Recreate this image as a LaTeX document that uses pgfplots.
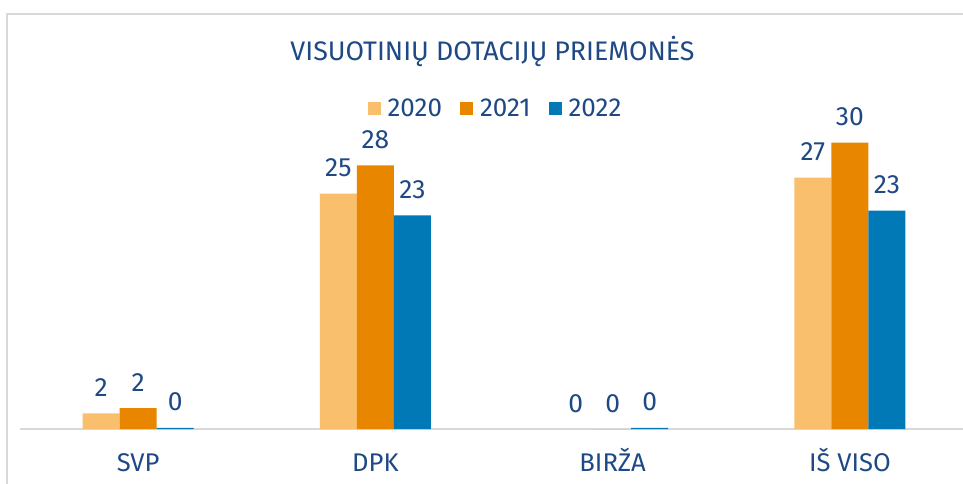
\documentclass[border=0pt]{standalone}
\usepackage{pgfplots}
\pgfplotsset{compat=1.18}
\usepackage{fontspec}
\setmainfont{Fira Sans}
\definecolor{c20}{RGB}{249,191,109}
\definecolor{c21}{RGB}{232,134,0}
\definecolor{c22}{RGB}{0,121,182}
\definecolor{txt}{RGB}{31,73,132}
\definecolor{frame}{RGB}{217,217,217}
\begin{document}
\begin{tikzpicture}[x=0.5pt,y=0.5pt]
\clip (0,0) rectangle (963,483);
\fill[white] (0,0) rectangle (963,483);
\draw[frame, line width=0.75pt] (7,-20) rectangle (1000,469);
\node[anchor=base, text=txt, font=\fontsize{13.4}{15}\selectfont, inner sep=0pt] at (492.5,422.3) {VISUOTINIŲ DOTACIJŲ PRIEMONĖS};
\begin{axis}[
  at={(9.75pt,27pt)}, anchor=south west,
  scale only axis, width=474.5pt, height=165.4pt,
  xmin=-0.5, xmax=3.5, ymin=0, ymax=35,
  axis y line=none, axis x line*=bottom,
  x axis line style={frame, line width=0.75pt, -},
  xtick={0,1,2,3}, xticklabels={SVP,DPK,BIRŽA,IŠ VISO},
  major tick length=0pt,
  xticklabel style={anchor=base, yshift=-21pt, text=txt, font=\fontsize{12.8}{14}\selectfont},
  ybar=0pt, bar width=18.5pt,
  point meta=explicit symbolic,
  nodes near coords={\pgfplotspointmeta},
  every node near coord/.append style={anchor=base, yshift=8.5pt, text=txt, font=\fontsize{13.2}{15}\selectfont, inner sep=0pt},
  legend style={at={(0.5026,0.9675)}, anchor=center, draw=none, fill=none, legend columns=3,
     font=\fontsize{13}{15}\selectfont, text=txt,
     /tikz/every odd column/.append style={column sep=1.5pt},
     /tikz/every even column/.append style={column sep=7pt}},
  legend image code/.code={\fill[#1] (0pt,-3.25pt) rectangle (6.5pt,3.25pt);},
  clip=false,
]
\addplot[fill=c20, draw=none] coordinates {(0,1.66) [2] (1,24.9) [25] (2,0) [0] (3,26.6) [27]};
\addplot[fill=c21, draw=none] coordinates {(0,2.22) [2] (1,27.9) [28] (2,0) [0] (3,30.3) [30]};
\addplot[fill=c22, draw=none] coordinates {(0,0.12) [0] (1,22.6) [23] (2,0.12) [0] (3,23.1) [23]};
\legend{2020,2021,2022}
\end{axis}
\end{tikzpicture}
\end{document}
